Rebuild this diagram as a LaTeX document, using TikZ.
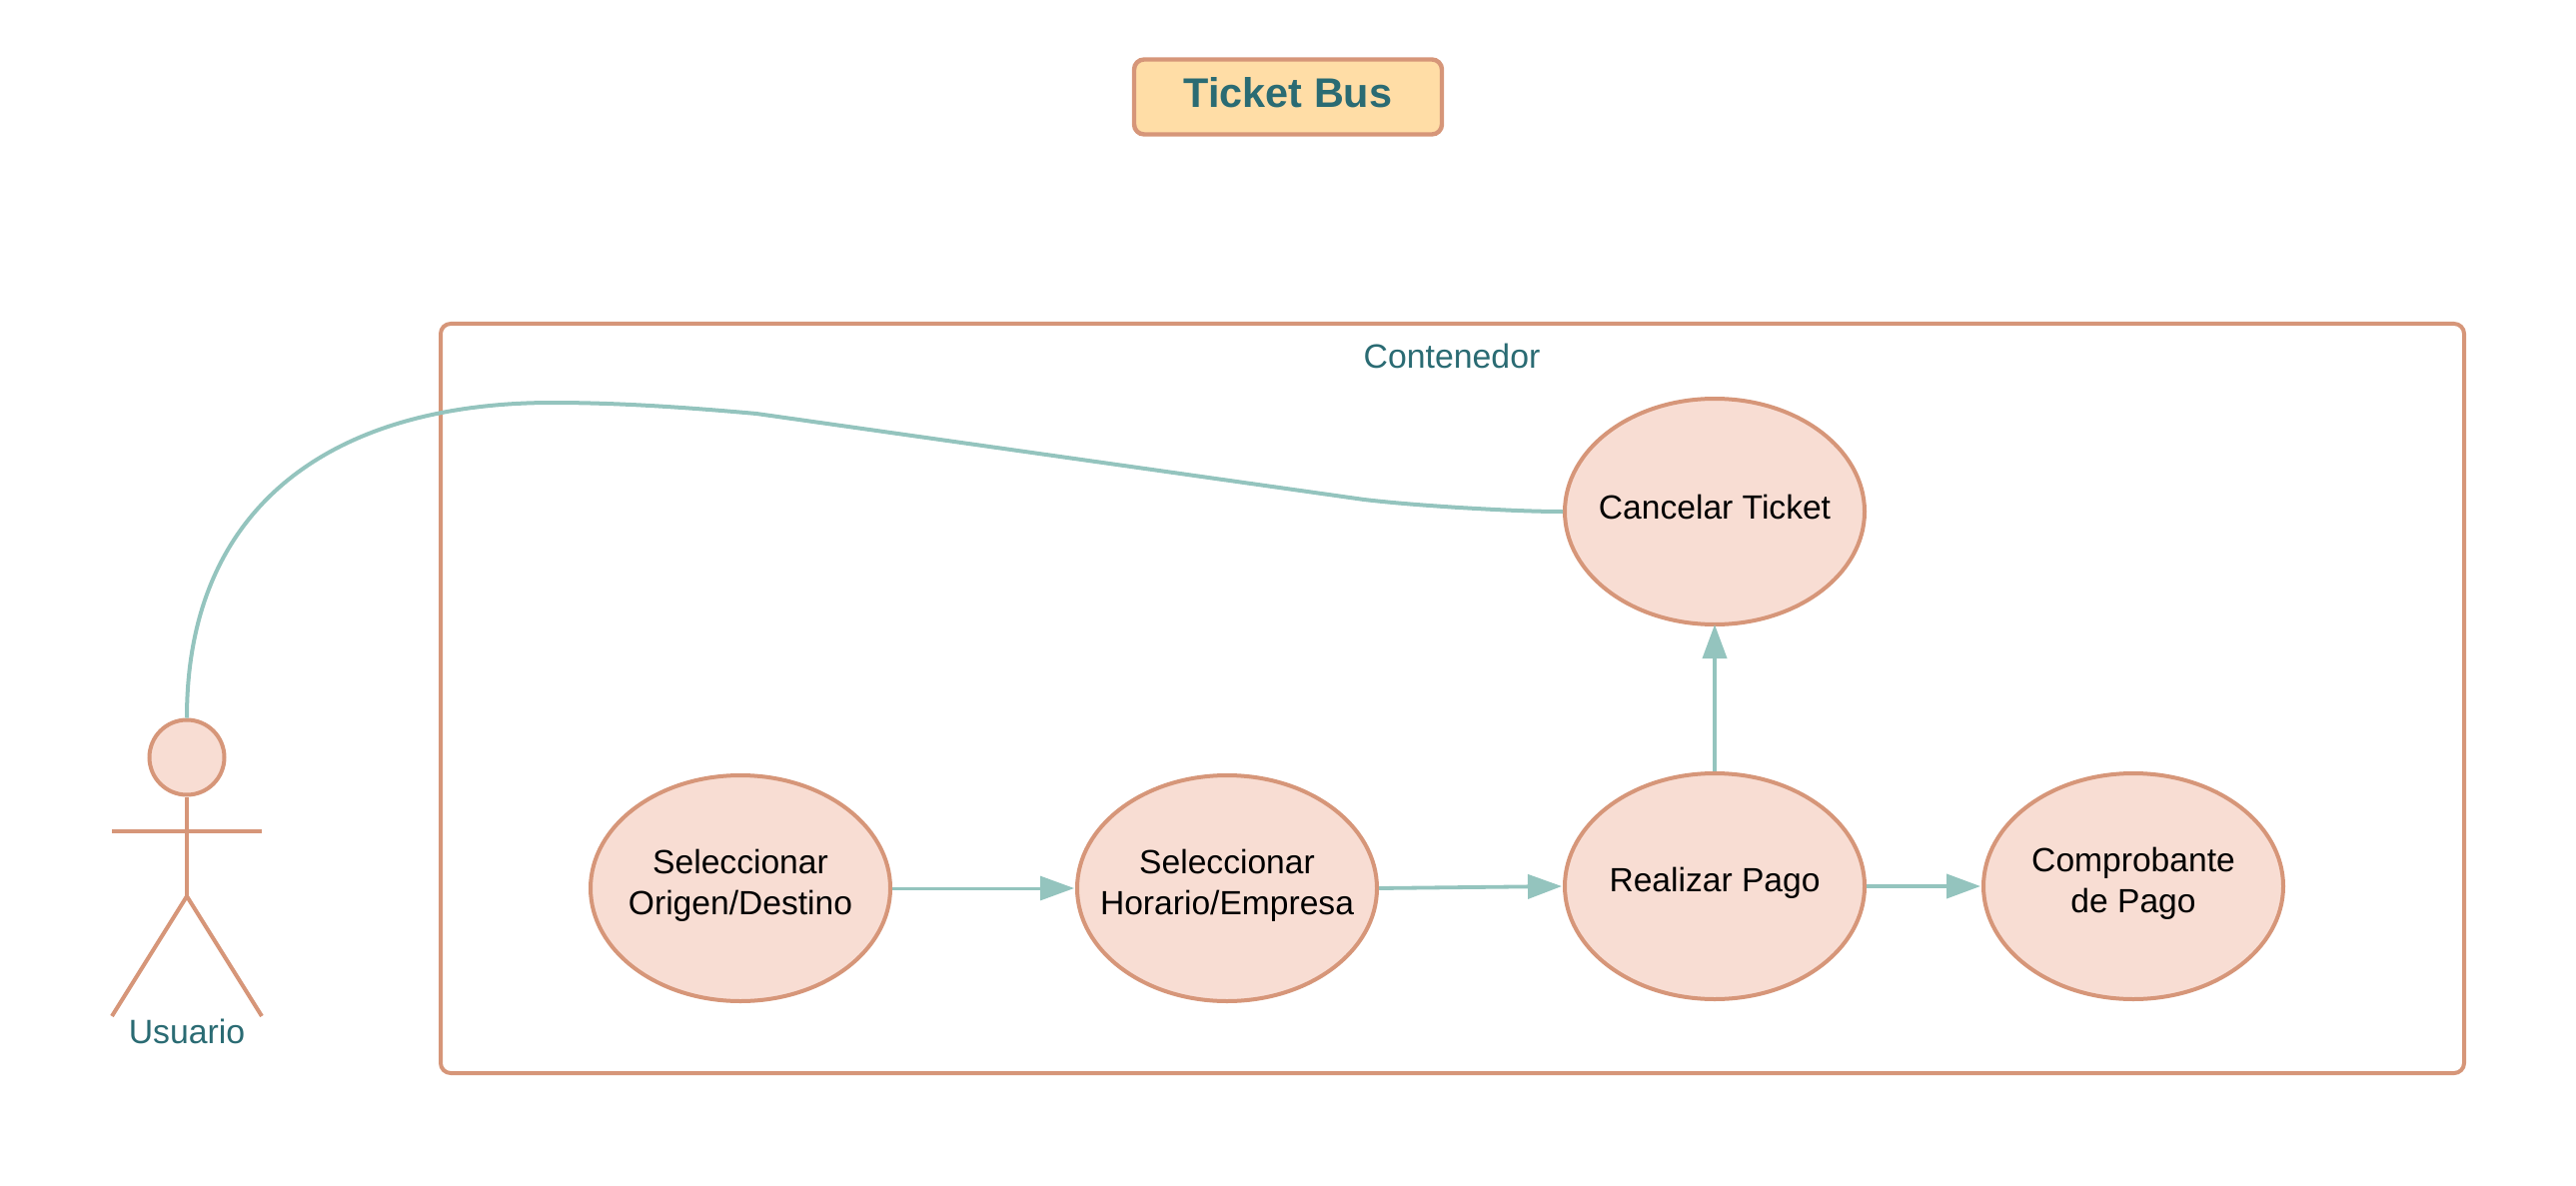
\documentclass[tikz,border=0pt]{standalone}
\usepackage{fontspec}
\setmainfont{Liberation Sans}
\usetikzlibrary{shapes.geometric, arrows.meta}

\definecolor{salmon}{HTML}{D69679}
\definecolor{salmonfill}{HTML}{F8DDD3}
\definecolor{titlefill}{HTML}{FFDDA6}
\definecolor{tealtext}{HTML}{2A6B73}
\definecolor{tealline}{HTML}{94C4BE}

\tikzset{
	usecase/.style={ellipse, draw=salmon, fill=salmonfill, line width=2pt, minimum width=150pt, minimum height=113pt, inner xsep=-26pt, inner ysep=0pt, align=center, text=black, text depth=6.5pt, font=\fontsize{16.8}{20.5}\selectfont},
	flowline/.style={draw=tealline, line width=1.9pt, -{Triangle[length=17pt, width=12pt]}, shorten >=0.5pt},
	actorline/.style={draw=salmon, line width=2pt},
	tealcaption/.style={text=tealtext, inner sep=0pt, anchor=base, font=\fontsize{16.9}{20.5}\selectfont}
}

\begin{document}
\begin{tikzpicture}[x=0.5pt, y=-0.5pt]
	\useasboundingbox (0,0) rectangle (2578,1187);

	% Title
	\node[draw=salmon, fill=titlefill, line width=2.2pt, rounded corners=5pt, minimum width=154pt, minimum height=37.5pt, inner sep=0pt, text=tealtext, font=\bfseries\fontsize{20.7}{24}\selectfont] (title) at (1289,97) {\raisebox{4.6pt}{Ticket Bus}};

	% Container
	\node[draw=salmon, line width=2pt, rounded corners=5pt, minimum width=1012.5pt, minimum height=375pt, inner sep=0pt] (contenedor) at (1453.5,699) {};
	\node[tealcaption] (contenedorlabel) at (1453,368) {Contenedor};

	% Use cases
	\node[usecase, text depth=5pt] (cancelar) at (1716,512) {Cancelar Ticket};
	\node[usecase] (origen) at (741,889) {Seleccionar\\Origen/Destino};
	\node[usecase] (horario) at (1228,889) {Seleccionar\\Horario/Empresa};
	\node[usecase] (pago) at (1716,887) {Realizar Pago};
	\node[usecase] (comprobante) at (2135,887) {Comprobante\\de Pago};

	% Actor
	\node[circle, draw=salmon, fill=salmonfill, line width=2pt, minimum size=37.5pt, inner sep=0pt] (head) at (187,758) {};
	\coordinate (armleft) at (112,832);
	\coordinate (armright) at (262,832);
	\coordinate (hip) at (187,897);
	\coordinate (footleft) at (112,1017);
	\coordinate (footright) at (262,1017);
	\draw[actorline] (head) -- (hip);
	\draw[actorline] (armleft) -- (armright);
	\draw[actorline] (footleft) -- (hip) -- (footright);
	\node[tealcaption] (usuario) at (187,1044) {Usuario};

	% Connectors
	\draw[draw=tealline, line width=2pt] (head.north) .. controls (187,500) and (340,403) .. (553,403) .. controls (620,403) and (690,408) .. (757,414) -- (1365,500) .. controls (1400,504) and (1430,506) .. (1460,508) .. controls (1495,510) and (1530,512) .. (cancelar.west);
	\draw[flowline, line width=1.5pt] (origen) -- (horario);
	\draw[flowline] (horario.east) -- (pago.west);
	\draw[flowline] (pago) -- (comprobante);
	\draw[flowline, shorten >=-1pt] (pago) -- (cancelar);
\end{tikzpicture}
\end{document}
